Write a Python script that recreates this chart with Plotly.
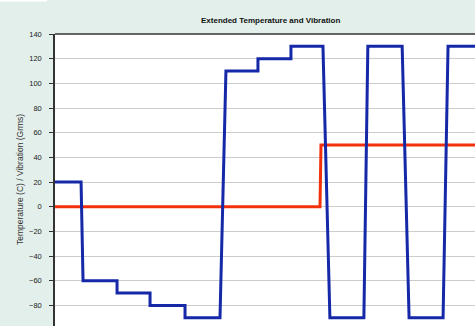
import plotly.graph_objects as go

# Test profile: time in hours
vib_time = [0.0, 0.79, 0.85, 1.88, 1.88, 2.88, 2.88, 3.94, 3.94, 5.0, 5.18,
            6.15, 6.15, 7.15, 7.15, 8.12, 8.33, 9.36, 9.48, 10.52, 10.73,
            11.76, 11.91, 13.5]
vib_value = [20, 20, -60, -60, -70, -70, -80, -80, -90, -90, 110,
             110, 120, 120, 130, 130, -90, -90, 130, 130, -90,
             -90, 130, 130]

temp_time = [0.0, 8.03, 8.06, 13.5]
temp_value = [0, 0, 50, 50]

y_ticks = [-80, -60, -40, -20, 0, 20, 40, 60, 80, 100, 120, 140]

W, H = 475, 326
ML, MT = 55, 34
PW = W - ML


def px_x(p):
    return (p - ML) / PW


fig = go.Figure()
fig.add_trace(go.Scatter(x=temp_time, y=temp_value, mode="lines",
                         line=dict(color="#f2300c", width=3),
                         name="Temperature"))
fig.add_trace(go.Scatter(x=vib_time, y=vib_value, mode="lines",
                         line=dict(color="#1428a8", width=3),
                         name="Vibration"))

fig.update_layout(
    width=W, height=H,
    margin=dict(l=ML, r=0, t=MT, b=0, pad=0),
    paper_bgcolor="#e3efea",
    plot_bgcolor="#ffffff",
    showlegend=False,
    font=dict(family="Liberation Sans, Arial, sans-serif", size=7, color="#222222"),
    xaxis=dict(range=[0, PW / 33.0], showgrid=False, zeroline=False,
               showticklabels=False, ticks="", showline=False),
    yaxis=dict(range=[-96.7, 140], tickvals=y_ticks, showgrid=True,
               gridcolor="#cccccc", gridwidth=1, zeroline=False,
               showline=True, linecolor="#333333", linewidth=1.5,
               ticks="outside", ticklen=4, tickcolor="#333333",
               ticklabelstandoff=6,
               tickfont=dict(size=7.5, color="#1a1a1a")),
    shapes=[
        dict(type="line", xref="paper", yref="paper", x0=0, x1=1, y0=1, y1=1,
             line=dict(color="#333333", width=1.5)),
        dict(type="rect", xref="paper", yref="paper", x0=px_x(0), x1=px_x(47),
             y0=1 + (MT - 1.5) / (H - MT), y1=1 + MT / (H - MT),
             fillcolor="#ffffff", line=dict(width=0)),
    ],
    annotations=[
        dict(text="<b>Extended Temperature and Vibration</b>", xref="paper",
             yref="paper", x=px_x(270), y=1 + (MT - 20) / (H - MT),
             showarrow=False, xanchor="center", yanchor="middle",
             font=dict(size=8, color="#111111")),
        dict(text="Temperature (C) / Vibration (Grms)", xref="paper",
             yref="paper", x=px_x(20), y=0.5, textangle=-90,
             showarrow=False, xanchor="center", yanchor="middle",
             font=dict(size=8.5, color="#333333")),
    ],
)

fig.write_html("out.html")
